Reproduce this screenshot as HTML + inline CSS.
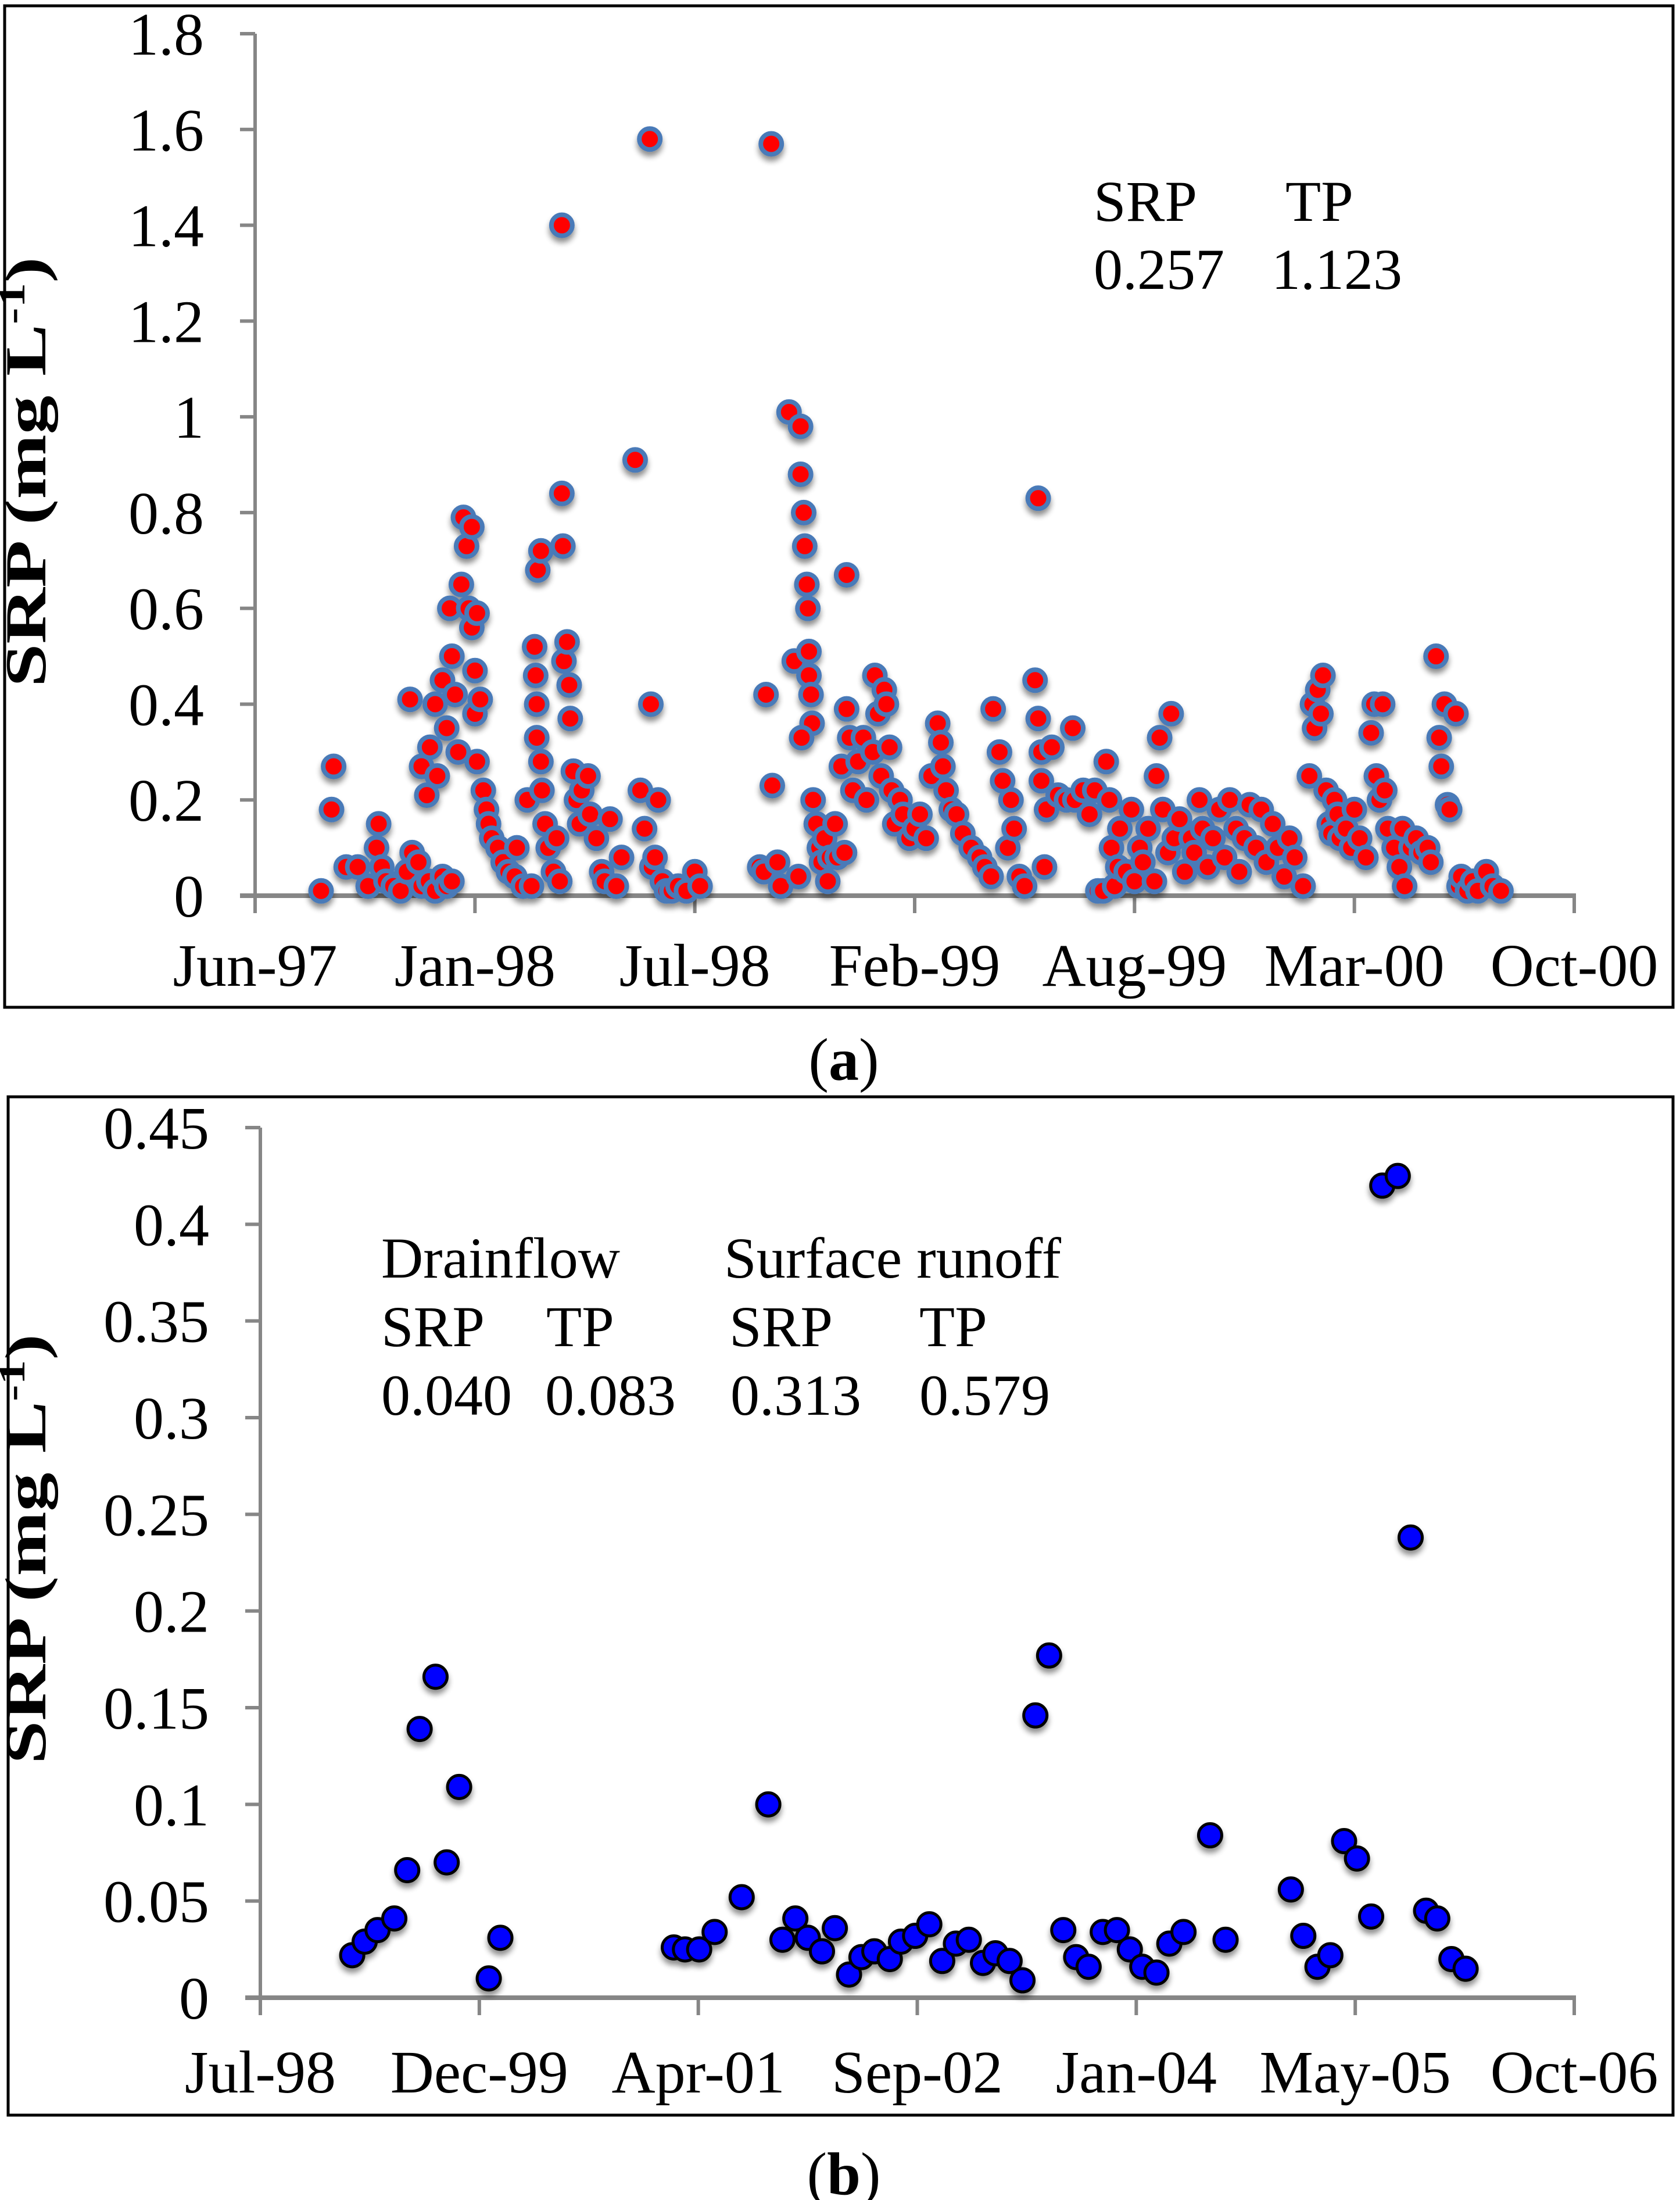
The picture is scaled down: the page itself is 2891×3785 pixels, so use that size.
<!DOCTYPE html>
<html><head><meta charset="utf-8"><style>
html,body{margin:0;padding:0;background:#fff}
svg{display:block}
text{font-family:"Liberation Serif",serif;fill:#000}
</style></head><body>
<svg id="fig" width="2891" height="3785" viewBox="0 0 2891 3785" xmlns="http://www.w3.org/2000/svg">
<defs>
<filter id="sh" x="-50%" y="-50%" width="200%" height="200%"><feGaussianBlur in="SourceAlpha" stdDeviation="5"/><feOffset dx="0" dy="8"/><feComponentTransfer><feFuncA type="linear" slope="0.45"/></feComponentTransfer><feMerge><feMergeNode/><feMergeNode in="SourceGraphic"/></feMerge></filter>
</defs>
<rect x="8" y="10" width="2871" height="1723" fill="none" stroke="#000" stroke-width="5"/>
<rect x="14" y="1887" width="2865" height="1752" fill="none" stroke="#000" stroke-width="5"/>
<g id="pa"></g>
<g id="pb"></g>
<text x="1452" y="1858" font-size="104" text-anchor="middle">(<tspan font-weight="bold">a</tspan>)</text>
<text x="1452" y="3775" font-size="104" text-anchor="middle">(<tspan font-weight="bold">b</tspan>)</text>
<g>
<text x="1882" y="380" font-size="100">SRP</text><text x="2212" y="380" font-size="100">TP</text>
<text x="1882" y="497" font-size="100">0.257</text><text x="2188" y="497" font-size="100">1.123</text>
</g>
<g>
<text x="656" y="2198" font-size="100">Drainflow</text><text x="1246" y="2198" font-size="100" textLength="580" lengthAdjust="spacingAndGlyphs">Surface runoff</text>
<text x="656" y="2316" font-size="100">SRP</text><text x="940" y="2316" font-size="100">TP</text>
<text x="1255" y="2316" font-size="100">SRP</text><text x="1582" y="2316" font-size="100">TP</text>
<text x="656" y="2434" font-size="100">0.040</text><text x="938" y="2434" font-size="100">0.083</text>
<text x="1257" y="2434" font-size="100">0.313</text><text x="1582" y="2434" font-size="100">0.579</text>
</g>
</svg>
<script>
// Panel A data (days since Jun-97, SRP mg/L)
const aDays=[63,73,75,87,98,108,116,118,121,125,132,139,145,150,156,159,166,172,179,183,188,
148,159,164,167,172,174,179,183,186,188,191,194,197,199,202,204,207,207,210,210,212,212,215,218,221,223,226,232,237,242,248,250,256,260,264,
267,268,269,269,270,273,273,274,277,280,285,288,291,293,293,294,295,298,300,301,304,307,310,312,318,320,326,331,334,339,345,350,
363,368,372,377,378,379,382,385,389,393,398,404,412,420,425,
482,486,488,493,494,499,502,510,515,519,521,521,524,525,527,528,529,529,531,532,522,533,536,539,541,544,547,549,554,556,563,565,560,565,568,571,
576,581,584,590,592,595,598,601,603,606,608,611,616,619,625,630,635,641,646,652,655,657,660,665,670,676,684,692,697,703,
705,711,714,719,722,725,730,735,745,748,748,751,751,754,756,761,767,775,781,783,791,797,802,
805,810,813,816,818,821,824,826,832,837,840,845,848,853,859,861,864,867,872,875,878,883,888,894,897,902,905,910,915,921,926,931,937,940,945,950,956,961,966,972,977,983,988,993,
1001,1007,1010,1012,1015,1018,1020,1023,1026,1028,1031,1034,1036,1042,1047,1050,1055,1061,1066,1069,1071,1074,1077,1079,1082,1088,1093,1096,1098,1104,1109,1114,1120,1123,1128,1131,1133,1136,1139,1141,1147,1150,1152,1158,1163,1168,1176,1182,1190];
const aSRP=[0.01,0.18,0.27,0.06,0.06,0.02,0.1,0.15,0.06,0.03,0.02,0.01,0.05,0.09,0.07,0.02,0.03,0.01,0.04,0.02,0.03,
0.41,0.27,0.21,0.31,0.4,0.25,0.45,0.35,0.6,0.5,0.42,0.3,0.65,0.79,0.73,0.6,0.77,0.56,0.47,0.38,0.59,0.28,0.41,0.22,0.18,0.15,0.12,0.1,0.07,0.05,0.04,0.1,0.02,0.2,0.02,
0.52,0.46,0.4,0.33,0.68,0.72,0.28,0.22,0.15,0.1,0.05,0.12,0.03,1.4,0.84,0.73,0.49,0.53,0.44,0.37,0.26,0.2,0.15,0.22,0.25,0.17,0.12,0.05,0.03,0.16,0.02,0.08,
0.91,0.22,0.14,1.58,0.4,0.06,0.08,0.2,0.03,0.01,0.01,0.02,0.01,0.05,0.02,
0.06,0.05,0.42,1.57,0.23,0.07,0.02,1.01,0.49,0.04,0.98,0.88,0.8,0.73,0.65,0.6,0.51,0.46,0.42,0.36,0.33,0.2,0.15,0.1,0.07,0.12,0.03,0.08,0.15,0.08,0.09,0.67,0.27,0.39,0.33,0.22,
0.28,0.33,0.2,0.3,0.46,0.38,0.25,0.43,0.4,0.31,0.22,0.15,0.2,0.17,0.12,0.14,0.17,0.12,0.25,0.36,0.32,0.27,0.22,0.18,0.17,0.13,0.1,0.08,0.06,0.04,
0.39,0.3,0.24,0.1,0.2,0.14,0.04,0.02,0.45,0.83,0.37,0.3,0.24,0.06,0.18,0.31,0.21,0.2,0.35,0.2,0.22,0.17,0.22,
0.01,0.01,0.28,0.2,0.1,0.02,0.06,0.14,0.05,0.18,0.03,0.1,0.07,0.14,0.03,0.25,0.33,0.18,0.09,0.38,0.12,0.16,0.05,0.12,0.09,0.2,0.14,0.06,0.12,0.18,0.08,0.2,0.14,0.05,0.12,0.19,0.1,0.18,0.07,0.15,0.1,0.04,0.12,0.08,
0.02,0.25,0.4,0.35,0.43,0.38,0.46,0.22,0.15,0.13,0.2,0.17,0.12,0.14,0.1,0.18,0.12,0.08,0.34,0.4,0.25,0.2,0.4,0.22,0.14,0.1,0.06,0.14,0.02,0.1,0.12,0.09,0.1,0.07,0.5,0.33,0.27,0.4,0.19,0.18,0.38,0.02,0.04,0.01,0.03,0.01,0.05,0.02,0.01];
const aYTicks=["0","0.2","0.4","0.6","0.8","1","1.2","1.4","1.6","1.8"];
const aXTicks=["Jun-97","Jan-98","Jul-98","Feb-99","Aug-99","Mar-00","Oct-00"];
// Panel B data (days since Jul-98, SRP mg/L)
const bDays=[214,243,273,312,342,371,408,434,463,532,559,963,989,1022,1058,1121,1183,1216,1246,1275,1308,1338,1371,1400,1430,1466,1492,1525,1558,1588,1620,1650,1683,1712,1745,1775,1805,1837,1870,1900,1929,1962,1995,2025,2054,2087,2117,2150,2212,2248,2400,2429,2462,2492,2524,2554,2587,2613,2649,2679,2715,2741,2774,2807];
const bSRP=[0.022,0.029,0.035,0.041,0.066,0.139,0.166,0.07,0.109,0.01,0.031,0.026,0.025,0.025,0.034,0.052,0.1,0.03,0.041,0.031,0.024,0.036,0.012,0.021,0.024,0.02,0.029,0.032,0.038,0.019,0.028,0.03,0.018,0.023,0.019,0.009,0.146,0.177,0.035,0.021,0.016,0.034,0.035,0.025,0.016,0.013,0.028,0.034,0.084,0.03,0.056,0.032,0.016,0.022,0.081,0.072,0.042,0.42,0.425,0.238,0.045,0.041,0.02,0.015];
const bYTicks=["0","0.05","0.1","0.15","0.2","0.25","0.3","0.35","0.4","0.45"];
const bXTicks=["Jul-98","Dec-99","Apr-01","Sep-02","Jan-04","May-05","Oct-06"];

const NS="http://www.w3.org/2000/svg";
function mk(tag,attrs,parent){const e=document.createElementNS(NS,tag);for(const k in attrs)e.setAttribute(k,attrs[k]);parent.appendChild(e);return e;}

function drawPanel(g,cfg,days,vals,yTicks,xTicks,prefix){
  const X=d=>cfg.x0+(d-cfg.dmin)/(cfg.dmax-cfg.dmin)*(cfg.x1-cfg.x0);
  const Y=v=>cfg.y0-(v/cfg.vmax)*(cfg.y0-cfg.y1);
  const ax=mk('g',{},g);
  
  
  const yl=mk('line',{x1:cfg.x0,y1:cfg.y1,x2:cfg.x0,y2:cfg.y0,stroke:'#868686','stroke-width':6},ax);
  
  
  const xl=mk('line',{x1:cfg.x0-26,y1:cfg.y0,x2:cfg.x1+3,y2:cfg.y0,stroke:'#868686','stroke-width':8},ax);
  
  
  yTicks.forEach(t=>{
    const y=Y(parseFloat(t));
    mk('line',{x1:cfg.x0-26,y1:y,x2:cfg.x0,y2:y,stroke:'#868686','stroke-width':6},ax);
    const tx=mk('text',{x:cfg.x0-88,y:y+36,'font-size':104,'text-anchor':'end'},ax);
    tx.textContent=t;
    
    
  });
  xTicks.forEach((t,i)=>{
    const x=cfg.x0+i*(cfg.x1-cfg.x0)/(xTicks.length-1);
    mk('line',{x1:x,y1:cfg.y0,x2:x,y2:cfg.y0+30,stroke:'#868686','stroke-width':6},ax);
    const tx=mk('text',{x:x,y:cfg.y0+cfg.lab,'font-size':104,'text-anchor':'middle'},ax);
    tx.textContent=t;
    
    
  });
  const tt=mk('text',{transform:`translate(${cfg.tx},${cfg.ty}) rotate(-90)`,'font-size':100,'font-weight':'bold','text-anchor':'middle',textLength:740,lengthAdjust:'spacingAndGlyphs'},g);
  tt.innerHTML='SRP (mg L<tspan dy="-36" font-size="64">-1</tspan><tspan dy="36">)</tspan>';
  
  
  const pts=mk('g',{filter:'url(#sh)'},g);
  
  
  days.forEach((d,i)=>{
    const c=mk('circle',{cx:X(d),cy:Y(vals[i]),r:cfg.r,fill:cfg.fill,stroke:cfg.stroke,'stroke-width':cfg.sw},pts);
    
    
  });
}
drawPanel(document.getElementById('pa'),{x0:439,x1:2709,y0:1541,y1:58,dmin:0,dmax:1260,vmax:1.8,lab:155,tx:78,ty:812,r:18,fill:'#ff0000',stroke:'#4a7ab8',sw:8},aDays,aSRP,aYTicks,aXTicks,'panel-a');
drawPanel(document.getElementById('pb'),{x0:448,x1:2709,y0:3437,y1:1940,dmin:0,dmax:3060,vmax:0.45,lab:163,tx:78,ty:2665,r:20,fill:'#0000ff',stroke:'#000',sw:5},bDays,bSRP,bYTicks,bXTicks,'panel-b');
</script>
</body></html>
